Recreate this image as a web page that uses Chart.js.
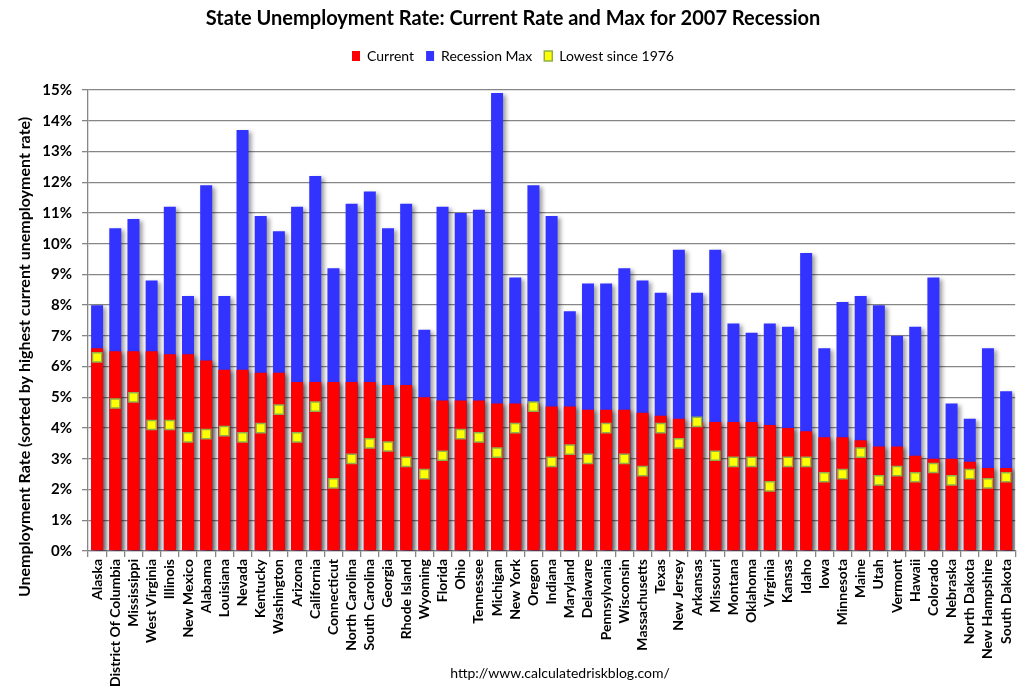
<!DOCTYPE html>
<html>
<head>
<meta charset="utf-8">
<title>State Unemployment Rate</title>
<script src="https://cdn.jsdelivr.net/npm/chart.js@4.4.1/dist/chart.umd.min.js"></script>
<style>
  body { margin: 0; background: #fff; }
  #wrap { width: 1025px; height: 692px; }
</style>
</head>
<body>
<div id="wrap"><canvas id="myChart" width="1025" height="692"></canvas></div>
<script>
// states, sorted by highest current unemployment rate
var states = ["Alaska","District Of Columbia","Mississippi","West Virginia","Illinois","New Mexico","Alabama","Louisiana","Nevada","Kentucky",
  "Washington","Arizona","California","Connecticut","North Carolina","South Carolina","Georgia","Rhode Island","Wyoming","Florida",
  "Ohio","Tennessee","Michigan","New York","Oregon","Indiana","Maryland","Delaware","Pennsylvania","Wisconsin",
  "Massachusetts","Texas","New Jersey","Arkansas","Missouri","Montana","Oklahoma","Virginia","Kansas","Idaho",
  "Iowa","Minnesota","Maine","Utah","Vermont","Hawaii","Colorado","Nebraska","North Dakota","New Hampshire","South Dakota"];

var current = [6.6,6.5,6.5,6.5,6.4,6.4,6.2,5.9,5.9,5.8,
  5.8,5.5,5.5,5.5,5.5,5.5,5.4,5.4,5.0,4.9,
  4.9,4.9,4.8,4.8,4.8,4.7,4.7,4.6,4.6,4.6,
  4.5,4.4,4.3,4.2,4.2,4.2,4.2,4.1,4.0,3.9,
  3.7,3.7,3.6,3.4,3.4,3.1,3.0,3.0,2.9,2.7,2.7];

var recessionMax = [8.0,10.5,10.8,8.8,11.2,8.3,11.9,8.3,13.7,10.9,
  10.4,11.2,12.2,9.2,11.3,11.7,10.5,11.3,7.2,11.2,
  11.0,11.1,14.9,8.9,11.9,10.9,7.8,8.7,8.7,9.2,
  8.8,8.4,9.8,8.4,9.8,7.4,7.1,7.4,7.3,9.7,
  6.6,8.1,8.3,8.0,7.0,7.3,8.9,4.8,4.3,6.6,5.2];

var lowestSince1976 = [6.3,4.8,5.0,4.1,4.1,3.7,3.8,3.9,3.7,4.0,
  4.6,3.7,4.7,2.2,3.0,3.5,3.4,2.9,2.5,3.1,
  3.8,3.7,3.2,4.0,4.7,2.9,3.3,3.0,4.0,3.0,
  2.6,4.0,3.5,4.2,3.1,2.9,2.9,2.1,2.9,2.9,
  2.4,2.5,3.2,2.3,2.6,2.4,2.7,2.3,2.5,2.2,2.4];

var yTicks = [0,1,2,3,4,5,6,7,8,9,10,11,12,13,14,15];

var FONT = "Lato, 'Open Sans', sans-serif";

// soft drop shadow behind the bars
var barShadow = {
  id: 'barShadow',
  beforeDatasetDraw: function(chart, args) {
    if (args.meta.type !== 'bar') return;
    var ctx = chart.ctx;
    ctx.save();
    ctx.shadowColor = 'rgba(0,0,0,0.38)';
    ctx.shadowBlur = 4;
    ctx.shadowOffsetX = 3;
    ctx.shadowOffsetY = 2;
  },
  afterDatasetDraw: function(chart, args) {
    if (args.meta.type !== 'bar') return;
    chart.ctx.restore();
  }
};

// legend a bit taller so the plot starts lower
var legendSpace = {
  id: 'legendSpace',
  beforeInit: function(chart) {
    var fit = chart.legend.fit;
    chart.legend.fit = function() {
      fit.bind(chart.legend)();
      this.height += 17;
    };
  }
};

// y title and source line
var extraText = {
  id: 'extraText',
  afterDraw: function(chart) {
    var ctx = chart.ctx;
    ctx.save();
    ctx.fillStyle = '#000';
    ctx.textAlign = 'center';
    ctx.textBaseline = 'middle';
    ctx.font = "bold 16px " + FONT;
    ctx.translate(25, 357);
    ctx.rotate(-Math.PI / 2);
    ctx.fillText("Unemployment Rate (sorted by highest current unemployment rate)", 0, 0);
    ctx.restore();

    ctx.save();
    ctx.fillStyle = '#000';
    ctx.textAlign = 'center';
    ctx.textBaseline = 'middle';
    ctx.font = "14px " + FONT;
    ctx.fillText("http://www.calculatedriskblog.com/", 560, 673);
    ctx.restore();
  }
};

var ctx = document.getElementById("myChart");

var myChart = new Chart(ctx, {
  type: 'bar',
  data: {
    labels: states,
    datasets: [
      {
        label: "Current",
        data: current,
        backgroundColor: "#FF0000",
        grouped: false,
        order: 1
      },
      {
        label: "Recession Max",
        data: recessionMax,
        backgroundColor: "#3333FF",
        grouped: false,
        order: 2
      },
      {
        type: 'line',
        label: "Lowest since 1976",
        data: lowestSince1976,
        showLine: false,
        pointStyle: 'rect',
        pointRadius: 6.5,
        pointHoverRadius: 6.5,
        backgroundColor: "#FFFF00",
        borderColor: "#8FB04A",
        borderWidth: 1.5,
        order: 0
      }
    ]
  },
  options: {
    responsive: false,
    animation: false,
    layout: { padding: { left: 8, right: 7, top: 1, bottom: 0 } },
    datasets: {
      bar: { categoryPercentage: 1.0, barPercentage: 0.66 }
    },
    plugins: {
      title: {
        display: true,
        text: "State Unemployment Rate: Current Rate and Max for 2007 Recession",
        color: "#000",
        font: { family: FONT, size: 20, weight: 'bold' },
        padding: { top: 6, bottom: 6 }
      },
      legend: {
        display: true,
        position: "top",
        labels: {
          color: "#000",
          font: { family: FONT, size: 14 },
          boxWidth: 8,
          boxHeight: 10,
          padding: 12,
          sort: function(a, b) { return a.datasetIndex - b.datasetIndex; }
        }
      },
      tooltip: { enabled: false }
    },
    scales: {
      x: {
        afterFit: function(scale) { scale.height = 141; },
        grid: {
          drawOnChartArea: false,
          drawTicks: true,
          tickLength: 6,
          color: "#868686",
          lineWidth: 1.3
        },
        border: { color: "#868686", width: 1.3 },
        ticks: {
          autoSkip: false,
          minRotation: 90,
          maxRotation: 90,
          padding: 2,
          color: "#000",
          font: { family: FONT, size: 14, weight: 'bold' }
        }
      },
      y: {
        min: 0,
        max: 15,
        afterFit: function(scale) { scale.width = 80; },
        afterBuildTicks: function(scale) {
          scale.ticks = yTicks.map(function(v) { return { value: v }; });
        },
        grid: {
          color: "#868686",
          lineWidth: 1.3,
          tickLength: 6
        },
        border: { color: "#868686", width: 1.3 },
        ticks: {
          padding: 10,
          color: "#000",
          font: { family: FONT, size: 15, weight: 'bold' },
          callback: function(v) { return v + '%'; }
        }
      }
    }
  },
  plugins: [barShadow, legendSpace, extraText]
});
</script>
</body>
</html>
